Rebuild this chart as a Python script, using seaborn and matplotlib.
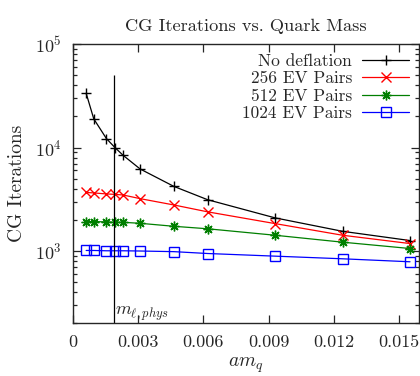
import matplotlib
matplotlib.use("Agg")
import matplotlib.pyplot as plt
import pandas as pd
import seaborn as sns
from matplotlib.ticker import LogLocator, MultipleLocator, NullFormatter

# quark masses (x) and CG iteration counts per deflation setting
AMQ = [0.00062, 0.00097, 0.00155, 0.00194, 0.002325, 0.0031, 0.00465,
       0.0062, 0.0093, 0.0124, 0.0155]
NO_DEFL = [33400, 18900, 12200, 10000, 8380, 6200, 4210, 3130, 2090, 1550, 1262]
EV_256 = [3680, 3640, 3560, 3525, 3475, 3205, 2785, 2390, 1840, 1420, 1180]
EV_512 = [1925, 1925, 1910, 1893, 1893, 1852, 1733, 1640, 1420, 1217, 1057]
EV_1024 = [1012, 1012, 1005, 1005, 1005, 1000, 986, 946, 892, 841, 787]
LABELS = ["No deflation", "256 EV Pairs", "512 EV Pairs", "1024 EV Pairs"]
M_PHYS = 0.0019

sns.set_style("ticks")
plt.rcParams["font.family"] = ["cmr10", "DejaVu Serif"]
plt.rcParams["mathtext.fontset"] = "cm"
plt.rcParams["axes.formatter.use_mathtext"] = True
plt.rcParams["font.size"] = 13

series = [NO_DEFL, EV_256, EV_512, EV_1024]
colors = ["black", "#ff0000", "#007f00", "#0000ff"]
markers = ["+", "x", (8, 2, 0), "s"]

fig = plt.figure(figsize=(4.2, 3.76), dpi=100)
ax = fig.add_axes([0.173, 0.14, 0.824, 0.743])

for vals, lab, c, m in zip(series, LABELS, colors, markers):
    df = pd.DataFrame({"amq": AMQ, "iters": vals})
    sns.lineplot(data=df, x="amq", y="iters", ax=ax, color=c, marker=m,
                 markersize=7, markeredgewidth=1.0, markerfacecolor="none",
                 markeredgecolor=c, linewidth=0.9, label=lab)

ax.vlines(M_PHYS, 200, 5e4, color="black", linewidth=0.9)
ax.text(M_PHYS + 0.00005, 203, r"$m_{\ell,phys}$", fontsize=13, va="bottom")

ax.set_yscale("log")
ax.set_xlim(0, 0.0159)
ax.set_ylim(200, 1e5)
ax.xaxis.set_major_locator(MultipleLocator(0.003))
ax.xaxis.set_major_formatter(plt.FuncFormatter(lambda v, p: "0" if v == 0 else f"{v:.3f}"))
ax.yaxis.set_major_locator(LogLocator(base=10, numticks=10))
ax.yaxis.set_minor_locator(LogLocator(base=10, subs=range(2, 10), numticks=10))
ax.yaxis.set_minor_formatter(NullFormatter())
ax.tick_params(which="both", direction="in", top=True, right=True, width=0.9,
               labelsize=13)
ax.tick_params(which="major", length=6, pad=8)
ax.tick_params(which="minor", length=3)
for s in ax.spines.values():
    s.set_linewidth(1.0)

ax.set_xlabel(r"$am_q$", fontsize=14, labelpad=4)
ax.set_ylabel("CG Iterations", fontsize=14, labelpad=6)
ax.set_title("CG Iterations vs. Quark Mass", fontsize=13.2, pad=9)

leg = ax.legend(loc="upper right", frameon=False, markerfirst=False,
                handlelength=2.7, labelspacing=0.12, borderaxespad=0.15,
                handletextpad=0.6, fontsize=12.5)
for t in leg.get_texts():
    t.set_ha("right")
leg._legend_box.align = "right"

fig.savefig("out.png", dpi=100)
